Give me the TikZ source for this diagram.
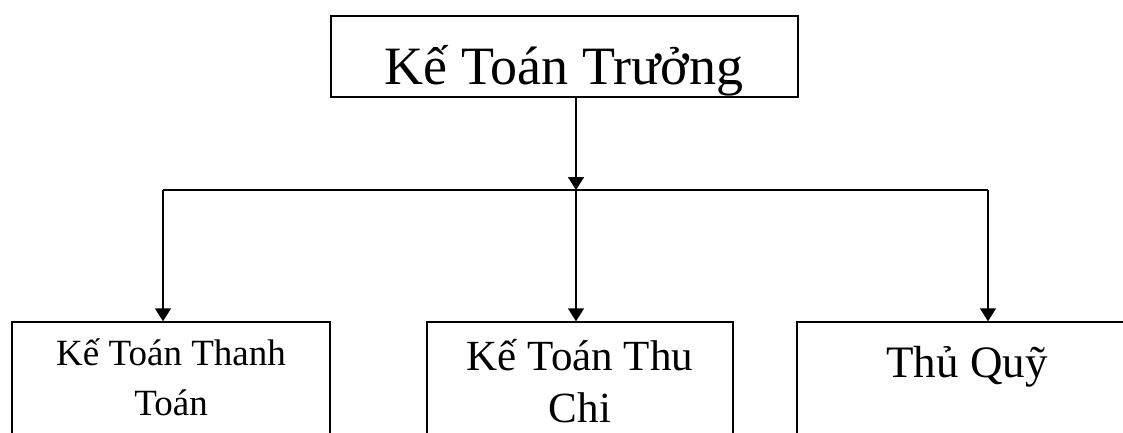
\documentclass[tikz,border=0pt]{standalone}
\usepackage{fontspec}
\setmainfont{Liberation Serif}
\usetikzlibrary{arrows.meta}
\begin{document}
\begin{tikzpicture}[x=1pt,y=1pt,
  box/.style={draw,line width=1.5pt,rectangle,inner sep=0pt},
  conn/.style={line width=1.7pt},
  arr/.style={conn,-{Triangle[length=13pt,width=16pt]}},
  lbl/.style={inner sep=0pt,align=center}]
\useasboundingbox (0,0) rectangle (1123,432);
\clip (0,0) rectangle (1123,432);
\node[box,minimum width=467pt,minimum height=81pt] (top) at (564.5,375.5) {};
\node[lbl,anchor=base,font=\fontsize{54}{60}\selectfont] (ttop) at (564,347) {Kế Toán Trưởng};
\node[box,minimum width=318pt,minimum height=170pt] (b1) at (171,25) {};
\node[box,minimum width=306pt,minimum height=170pt] (b2) at (580,25) {};
\node[box,minimum width=340pt,minimum height=170pt] (b3) at (967,25) {};
\node[lbl,anchor=base,font=\fontsize{37}{50}\selectfont] (t1a) at (171,67) {Kế Toán Thanh};
\node[lbl,anchor=base,font=\fontsize{37}{50}\selectfont] (t1b) at (171,17) {Toán};
\node[lbl,anchor=base,font=\fontsize{43}{56}\selectfont] (t2a) at (580,62) {Kế Toán Thu};
\node[lbl,anchor=base,font=\fontsize{43}{56}\selectfont] (t2b) at (580,10) {Chi};
\node[lbl,anchor=base,font=\fontsize{45}{56}\selectfont] (t3) at (967,55) {Thủ Quỹ};
\coordinate (j) at (576,242);
\coordinate (l) at (163,242);
\coordinate (r) at (988,242);
\draw[arr] (top.south -| j) -- (j);
\draw[conn] (l) -- (r);
\draw[arr] (l) -- (l |- b1.north);
\draw[arr] (j) -- (j |- b2.north);
\draw[arr] (r) -- (r |- b3.north);
\end{tikzpicture}
\end{document}
